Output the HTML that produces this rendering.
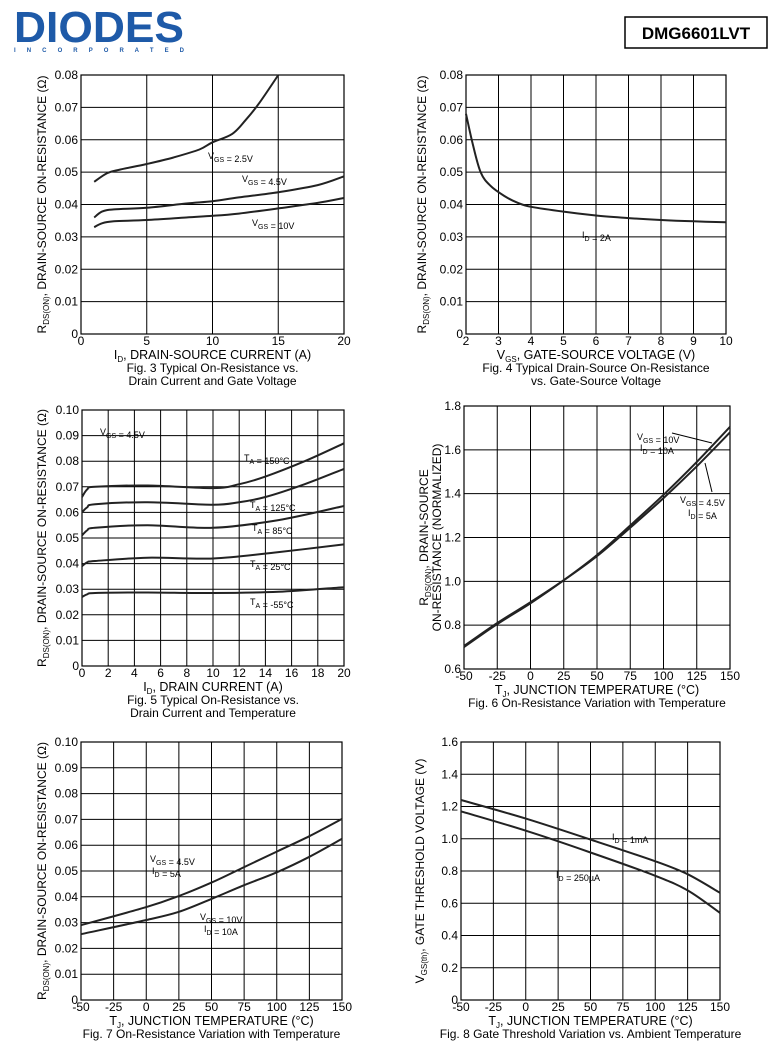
<!DOCTYPE html><html><head><meta charset="utf-8"><style>
body{margin:0;background:#fff;width:774px;height:1059px;overflow:hidden;font-family:"Liberation Sans",Arial,sans-serif}
svg{position:absolute;left:0;top:0}
</style></head><body>
<svg id="s" width="774" height="1059" viewBox="0 0 774 1059" font-family="Liberation Sans, Arial, sans-serif">
<text x="14" y="42" font-size="44" font-weight="bold" fill="#1e5aa8" textLength="170" lengthAdjust="spacingAndGlyphs">DIODES</text>
<text x="14" y="52" font-size="6" font-weight="bold" fill="#1e5aa8" textLength="170" lengthAdjust="spacing">I N C O R P O R A T E D</text>
<rect x="625" y="17" width="142" height="31" fill="#fff" stroke="#000" stroke-width="1.5"/>
<text x="696" y="39" font-size="17" font-weight="bold" text-anchor="middle">DMG6601LVT</text>
</svg>
<script>
var s=document.getElementById('s'),NS='http://www.w3.org/2000/svg';
function el(t,a,txt){var e=document.createElementNS(NS,t);for(var k in a)e.setAttribute(k,a[k]);if(txt!=null)e.innerHTML=txt;s.appendChild(e);return e;}
function smooth(P){var d='M'+P[0][0].toFixed(1)+','+P[0][1].toFixed(1);for(var i=0;i<P.length-1;i++){var p0=P[i-1]||P[i],p1=P[i],p2=P[i+1],p3=P[i+2]||p2;
 var c1=[p1[0]+(p2[0]-p0[0])/6,p1[1]+(p2[1]-p0[1])/6],c2=[p2[0]-(p3[0]-p1[0])/6,p2[1]-(p3[1]-p1[1])/6];
 d+='C'+c1[0].toFixed(1)+','+c1[1].toFixed(1)+' '+c2[0].toFixed(1)+','+c2[1].toFixed(1)+' '+p2[0].toFixed(1)+','+p2[1].toFixed(1);}return d;}
function plot(o){
 var X=function(v){return o.x0+(v-o.xmin)/(o.xmax-o.xmin)*(o.x1-o.x0)},Y=function(v){return o.y1-(v-o.ymin)/(o.ymax-o.ymin)*(o.y1-o.y0)};
 o.xt.forEach(function(v){el('line',{x1:X(v),x2:X(v),y1:o.y0,y2:o.y1,stroke:'#000','stroke-width':1});el('text',{x:X(v),y:o.y1+11,'font-size':12,'text-anchor':'middle'},''+v);});
 o.yt.forEach(function(v){el('line',{x1:o.x0,x2:o.x1,y1:Y(v),y2:Y(v),stroke:'#000','stroke-width':1});el('text',{x:o.x0-3,y:Y(v)+4,'font-size':12,'text-anchor':'end'},o.fmt(v));});
 el('rect',{x:o.x0,y:o.y0,width:o.x1-o.x0,height:o.y1-o.y0,fill:'none',stroke:'#000','stroke-width':1.2});
 o.curves.forEach(function(c){var P=c.map(function(p){return [X(p[0]),Y(p[1])]});el('path',{d:smooth(P),fill:'none',stroke:'#222','stroke-width':2,'stroke-linejoin':'round'});});
 var cx=(o.x0+o.x1)/2;
 el('text',{x:cx,y:o.y1+25,'font-size':12.5,'text-anchor':'middle'},o.xl);
 o.cap.forEach(function(t,i){el('text',{x:cx,y:o.y1+38+i*13,'font-size':12,'text-anchor':'middle'},t);});
 el('text',{transform:'translate('+o.yx+','+((o.y0+o.y1)/2)+') rotate(-90)','font-size':12,'text-anchor':'middle'},o.yl[0]);
 if(o.yl[1])el('text',{transform:'translate('+(o.yx+13)+','+((o.y0+o.y1)/2)+') rotate(-90)','font-size':12,'text-anchor':'middle'},o.yl[1]);
 (o.labels||[]).forEach(function(l){el('text',{x:l[0],y:l[1],'font-size':9},l[2]);});
}
function rng(a,b,st){var r=[];for(var v=a;v<=b+1e-9;v+=st)r.push(Math.round(v*1000)/1000);return r;}
var f2=function(v){return v==0?'0':v.toFixed(2)},f1=function(v){return v.toFixed(1)};
var sub=function(a,b){return a+'<tspan font-size="7" dy="3">'+b+'</tspan><tspan dy="-3"></tspan>'};
var ryl='R<tspan font-size="8" dy="3">DS(ON)</tspan><tspan dy="-3">, DRAIN-SOURCE ON-RESISTANCE (Ω)</tspan>';
plot({x0:81,x1:344,y0:75,y1:334,xmin:0,xmax:20,ymin:0,ymax:0.08,xt:rng(0,20,5),yt:rng(0,0.08,0.01),fmt:f2,yx:46,yl:[ryl],
 xl:'I<tspan font-size="8" dy="3">D</tspan><tspan dy="-3">, DRAIN-SOURCE CURRENT (A)</tspan>',cap:['Fig. 3 Typical On-Resistance vs.','Drain Current and Gate Voltage'],
 curves:[[[1,.047],[2,.0497],[3,.0508],[5,.0525],[7,.0545],[9,.057],[10,.0592],[11.5,.0618],[12.5,.066],[13.5,.071],[15,.080]],
 [[1,.036],[1.6,.0378],[2.5,.0385],[5,.039],[8,.0403],[10,.041],[12,.0422],[15,.0438],[18,.046],[20,.0487]],
 [[1,.033],[1.6,.0342],[2.5,.0348],[5,.0352],[8,.036],[10,.0365],[12,.0372],[15,.0388],[18,.0405],[20,.042]]],
 labels:[[208,159,sub('V','GS')+' = 2.5V'],[242,182,sub('V','GS')+' = 4.5V'],[252,226,sub('V','GS')+' = 10V']]});
plot({x0:466,x1:726,y0:75,y1:334,xmin:2,xmax:10,ymin:0,ymax:0.08,xt:rng(2,10,1),yt:rng(0,0.08,0.01),fmt:f2,yx:426,yl:[ryl],
 xl:'V<tspan font-size="8" dy="3">GS</tspan><tspan dy="-3">, GATE-SOURCE VOLTAGE (V)</tspan>',cap:['Fig. 4 Typical Drain-Source On-Resistance','vs. Gate-Source Voltage'],
 curves:[[[2,.068],[2.2,.059],[2.45,.05],[2.75,.0458],[3.2,.0425],[3.6,.0405],[4,.0393],[5,.0378],[6,.0366],[7,.0358],[8,.0352],[9,.0348],[10,.0345]]],
 labels:[[582,238,sub('I','D')+' = 2A']]});
plot({x0:82,x1:344,y0:410,y1:666,xmin:0,xmax:20,ymin:0,ymax:0.10,xt:rng(0,20,2),yt:rng(0,0.1,0.01),fmt:f2,yx:46,yl:[ryl],
 xl:'I<tspan font-size="8" dy="3">D</tspan><tspan dy="-3">, DRAIN CURRENT (A)</tspan>',cap:['Fig. 5 Typical On-Resistance vs.','Drain Current and Temperature'],
 curves:[[[0,.066],[.4,.069],[1,.07],[5,.0705],[10,.0695],[12,.071],[14,.074],[17,.08],[20,.087]],
 [[0,.06],[.4,.062],[1,.0632],[5,.064],[10,.063],[12,.064],[14,.066],[17,.071],[20,.077]],
 [[0,.051],[.4,.053],[1,.054],[5,.055],[10,.054],[15,.057],[20,.0625]],
 [[0,.039],[.4,.0405],[1,.041],[5,.0423],[10,.042],[15,.0445],[20,.0475]],
 [[0,.027],[.4,.028],[1,.0285],[5,.0287],[10,.0285],[15,.029],[20,.0308]]],
 labels:[[100,435,sub('V','GS')+' = 4.5V'],[244,461,sub('T','A')+' = 150°C'],[250,508,sub('T','A')+' = 125°C'],[252,531,sub('T','A')+' = 85°C'],[250,567,sub('T','A')+' = 25°C'],[250,605,sub('T','A')+' = -55°C']]});
plot({x0:464,x1:730,y0:406,y1:669,xmin:-50,xmax:150,ymin:0.6,ymax:1.8,xt:rng(-50,150,25),yt:rng(0.6,1.8,0.2),fmt:f1,yx:428,
 yl:['R<tspan font-size="8" dy="3">DS(ON)</tspan><tspan dy="-3">, DRAIN-SOURCE</tspan>','ON-RESISTANCE (NORMALIZED)'],
 xl:'T<tspan font-size="8" dy="3">J</tspan><tspan dy="-3">, JUNCTION TEMPERATURE (°C)</tspan>',cap:['Fig. 6 On-Resistance Variation with Temperature'],
 curves:[[[-50,.70],[-25,.805],[0,.90],[25,1.005],[50,1.12],[75,1.255],[100,1.395],[125,1.545],[150,1.705]],
 [[-50,.705],[-25,.81],[0,.905],[25,1.005],[50,1.115],[75,1.245],[100,1.38],[125,1.525],[150,1.68]]],
 labels:[[637,440,sub('V','GS')+' = 10V'],[640,451,sub('I','D')+' = 10A'],[680,503,sub('V','GS')+' = 4.5V'],[688,516,sub('I','D')+' = 5A']]});
el('line',{x1:672,y1:433,x2:712,y2:443,stroke:'#000'});el('line',{x1:712,y1:492,x2:705,y2:463,stroke:'#000'});
plot({x0:81,x1:342,y0:742,y1:1000,xmin:-50,xmax:150,ymin:0,ymax:0.10,xt:rng(-50,150,25),yt:rng(0,0.1,0.01),fmt:f2,yx:46,yl:[ryl],
 xl:'T<tspan font-size="8" dy="3">J</tspan><tspan dy="-3">, JUNCTION TEMPERATURE (°C)</tspan>',cap:['Fig. 7 On-Resistance Variation with Temperature'],
 curves:[[[-50,.029],[0,.036],[25,.0403],[50,.0455],[75,.0515],[100,.0575],[125,.0635],[150,.0702]],
 [[-50,.0255],[0,.031],[25,.0342],[50,.0392],[75,.0445],[100,.0495],[125,.0555],[150,.0625]]],
 labels:[[150,862,sub('V','GS')+' = 4.5V'],[152,874,sub('I','D')+' = 5A'],[200,920,sub('V','GS')+' = 10V'],[204,932,sub('I','D')+' = 10A']]});
plot({x0:461,x1:720,y0:742,y1:1000,xmin:-50,xmax:150,ymin:0,ymax:1.6,xt:rng(-50,150,25),yt:rng(0,1.6,0.2),fmt:function(v){return v==0?'0':v.toFixed(1)},yx:424,
 yl:['V<tspan font-size="8" dy="3">GS(th)</tspan><tspan dy="-3">, GATE THRESHOLD VOLTAGE (V)</tspan>'],
 xl:'T<tspan font-size="8" dy="3">J</tspan><tspan dy="-3">, JUNCTION TEMPERATURE (°C)</tspan>',cap:['Fig. 8 Gate Threshold Variation vs. Ambient Temperature'],
 curves:[[[-50,1.24],[0,1.125],[50,0.995],[100,0.86],[125,0.78],[150,0.665]],
 [[-50,1.17],[0,1.05],[50,0.915],[100,0.77],[125,0.68],[150,0.54]]],
 labels:[[612,840,sub('I','D')+' = 1mA'],[556,878,sub('I','D')+' = 250µA']]});
</script>
</body></html>
